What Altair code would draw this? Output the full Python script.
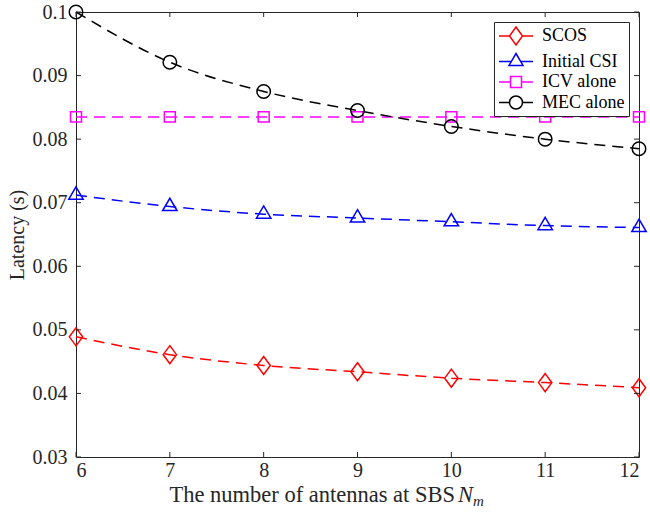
import altair as alt
import pandas as pd

# ---------------- data ----------------
antennas = [6, 7, 8, 9, 10, 11, 12]
scos = [0.0489, 0.0461, 0.0444, 0.0434, 0.0424, 0.0417, 0.0409]
initial_csi = [0.0712, 0.0694, 0.0682, 0.0676, 0.0670, 0.0664, 0.0661]
icv_alone = [0.0835, 0.0835, 0.0835, 0.0835, 0.0835, 0.0835, 0.0835]
mec_alone = [0.1000, 0.0921, 0.0875, 0.0845, 0.0820, 0.0800, 0.0785]

series_names = ["SCOS", "Initial CSI", "ICV alone", "MEC alone"]
series_colors = ["#FF0000", "#0000FF", "#FF00FF", "#000000"]

x_ticks = [6, 7, 8, 9, 10, 11, 12]
y_ticks = [0.03, 0.04, 0.05, 0.06, 0.07, 0.08, 0.09, 0.1]

# ---------------- build tables ----------------
values = {"SCOS": scos, "Initial CSI": initial_csi, "ICV alone": icv_alone, "MEC alone": mec_alone}
rows = []
for name in series_names:
    for n, v in zip(antennas, values[name]):
        rows.append({"n": n, "latency": v, "series": name})
df = pd.DataFrame(rows)
xt = pd.DataFrame({"n": x_ticks})
yt = pd.DataFrame({"latency": y_ticks})

W, H = 563, 445
FONT = "Liberation Serif"
AX = "#262626"


def f(v):
    return f"{v:.3f}"


def circle_path(r, cx=0.0):
    k = 0.5523 * r
    return (f"M{f(cx - r)},0C{f(cx - r)},{f(-k)} {f(cx - k)},{f(-r)} {f(cx)},{f(-r)}"
            f"C{f(cx + k)},{f(-r)} {f(cx + r)},{f(-k)} {f(cx + r)},0"
            f"C{f(cx + r)},{f(k)} {f(cx + k)},{f(r)} {f(cx)},{f(r)}"
            f"C{f(cx - k)},{f(r)} {f(cx - r)},{f(k)} {f(cx - r)},0Z")


# marker shapes in plot (unit space, size 324 -> radius 9px)
marker_paths = {
    "SCOS": "M0,-1L0.74,0L0,1L-0.74,0Z",
    "Initial CSI": "M0,-0.92L0.8,0.45L-0.8,0.45Z",
    "ICV alone": "M-0.61,-0.58L0.61,-0.58L0.61,0.58L-0.61,0.58Z",
    "MEC alone": circle_path(0.75),
}

# legend symbols: line + marker, drawn in 9px units (symbolSize 324)
U = 9.0
L0, L1, C = -9.0 / U, 25.0 / U, 8.0 / U   # line start/end and marker centre


def seg(a, b):
    return f"M{f(a)},0L{f(b)},0"


legend_paths = [
    seg(L0, C - 6.5 / U) + seg(C + 6.5 / U, L1)
    + f"M{f(C)},{f(-1)}L{f(C + 6.5 / U)},0L{f(C)},{f(1)}L{f(C - 6.5 / U)},0Z",
    seg(L0, C - 4.7 / U) + seg(C + 4.7 / U, L1)
    + f"M{f(C)},{f(-8 / U)}L{f(C + 7 / U)},{f(4 / U)}L{f(C - 7 / U)},{f(4 / U)}Z",
    seg(L0, C - 5.5 / U) + seg(C + 5.5 / U, L1)
    + f"M{f(C - 5.5 / U)},{f(-5.5 / U)}L{f(C + 5.5 / U)},{f(-5.5 / U)}"
      f"L{f(C + 5.5 / U)},{f(5.5 / U)}L{f(C - 5.5 / U)},{f(5.5 / U)}Z",
    seg(L0, C - 6.5 / U) + seg(C + 6.5 / U, L1) + circle_path(6.5 / U, C),
]

xscale = alt.Scale(domain=[6, 12], nice=False, zero=False)
yscale = alt.Scale(domain=[0.03, 0.1], nice=False, zero=False)
cscale = alt.Scale(domain=series_names, range=series_colors)

x_axis = alt.Axis(values=x_ticks, format="d", ticks=False, domain=False, grid=False,
                  labelFont=FONT, labelFontSize=20, labelColor=AX, labelPadding=3)
y_axis = alt.Axis(values=y_ticks, format=".2~f", ticks=False, domain=False, grid=False,
                  labelFont=FONT, labelFontSize=20, labelColor=AX, labelPadding=9,
                  titleFont=FONT, titleFontSize=20, titleFontWeight="normal",
                  titleColor=AX, titlePadding=5)


def X():
    return alt.X("n:Q", scale=xscale, title=None, axis=x_axis)


def Y():
    return alt.Y("latency:Q", scale=yscale, title="Latency (s)", axis=y_axis)


layers = []
for name, col in zip(series_names, series_colors):
    sub = alt.Chart(df).transform_filter(alt.datum.series == name)
    layers.append(sub.mark_line(strokeDash=[11, 7], strokeWidth=1.5, interpolate="monotone",
                                color=col).encode(x=X(), y=Y()))
    layers.append(sub.mark_point(shape=marker_paths[name], size=324, filled=False,
                                 strokeWidth=1.5, color=col, opacity=1).encode(x=X(), y=Y()))

leg_common = dict(title=None, orient="top-right", offset=10, padding=4, symbolSize=324,
                  symbolStrokeWidth=1.5, symbolOpacity=1, labelFont=FONT, labelFontSize=18,
                  labelColor="#000000", strokeColor=AX, fillColor="white", labelOffset=24,
                  rowPadding=1.5, labelLimit=0, cornerRadius=0)

legend_layer = alt.Chart(df).mark_point(opacity=0, filled=False).encode(
    x=X(), y=Y(),
    color=alt.Color("series:N", scale=cscale, legend=alt.Legend(**leg_common)),
    shape=alt.Shape("series:N", scale=alt.Scale(domain=series_names, range=legend_paths),
                    legend=alt.Legend(**leg_common)),
)
layers.append(legend_layer)

tick_len = 5
layers += [
    alt.Chart(xt).mark_rule(color=AX, strokeWidth=1).encode(
        x=X(), y=alt.value(H), y2=alt.value(H - tick_len)),
    alt.Chart(xt).mark_rule(color=AX, strokeWidth=1).encode(
        x=X(), y=alt.value(0), y2=alt.value(tick_len)),
    alt.Chart(yt).mark_rule(color=AX, strokeWidth=1).encode(
        y=Y(), x=alt.value(0), x2=alt.value(tick_len)),
    alt.Chart(yt).mark_rule(color=AX, strokeWidth=1).encode(
        y=Y(), x=alt.value(W), x2=alt.value(W - tick_len)),
]

anno = pd.DataFrame({"a": [0]})
layers += [
    alt.Chart(anno).mark_text(
        text="The number of antennas at SBS", font=FONT, fontSize=22.5, color=AX,
        align="right", baseline="alphabetic").encode(x=alt.value(379), y=alt.value(490)),
    alt.Chart(anno).mark_text(
        text="N", font=FONT, fontSize=22.5, fontStyle="italic", color=AX,
        align="left", baseline="alphabetic").encode(x=alt.value(382), y=alt.value(490)),
    alt.Chart(anno).mark_text(
        text="m", font=FONT, fontSize=15, fontStyle="italic", color=AX,
        align="left", baseline="alphabetic").encode(x=alt.value(397), y=alt.value(494)),
]

chart = alt.layer(*layers).properties(
    width=W, height=H,
    padding={"left": 76, "top": 12, "right": 650 - 76 - W, "bottom": 516 - 12 - H},
    autosize=alt.AutoSizeParams(type="none"),
    background="white",
).configure(font=FONT).configure_view(stroke=AX, strokeWidth=1).configure_axis(
    labelFont=FONT, titleFont=FONT
).configure_legend(labelFont=FONT, labelFontSize=18)

chart.save("out.html", embed_options={"renderer": "svg", "actions": False})
